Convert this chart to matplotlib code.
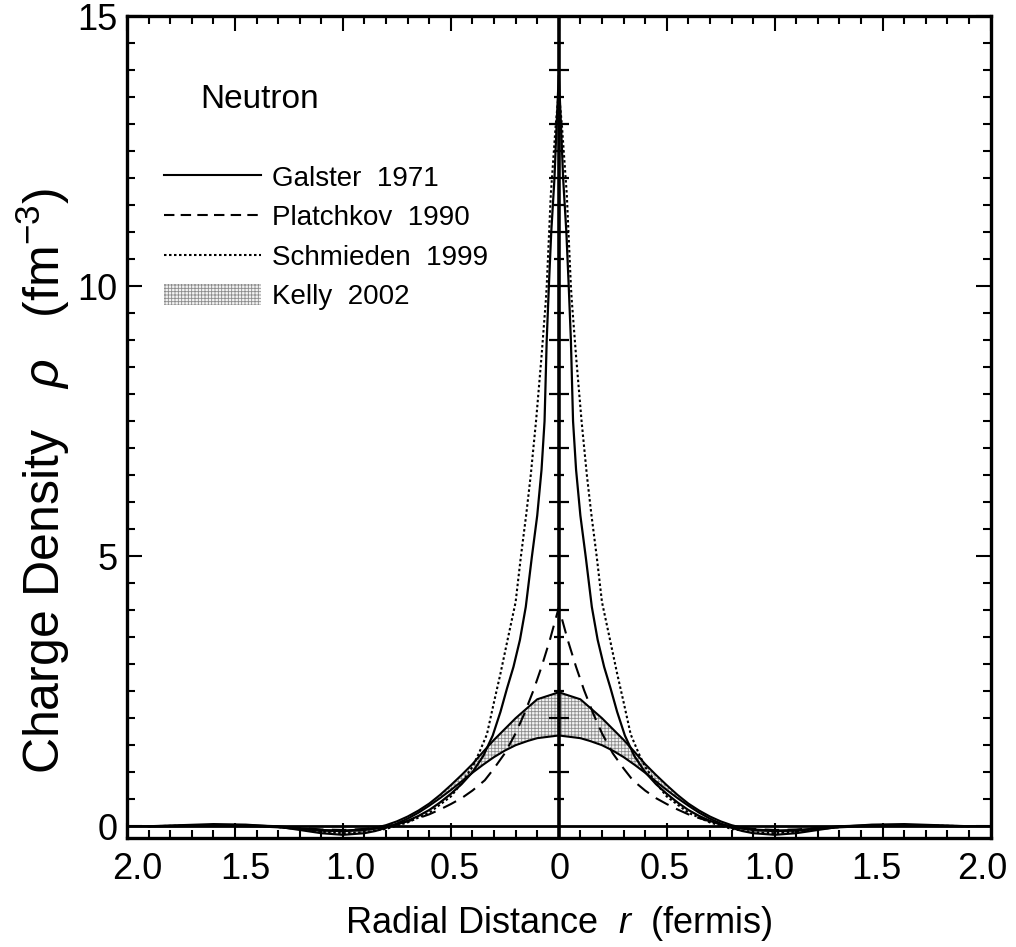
import matplotlib
matplotlib.use("Agg")
import matplotlib.pyplot as plt
import matplotlib.transforms as mtransforms
import numpy as np
from matplotlib.lines import Line2D
from matplotlib.patches import Patch

plt.rcParams["font.family"] = ["Liberation Sans", "DejaVu Sans"]
plt.rcParams["mathtext.fontset"] = "custom"
plt.rcParams["mathtext.rm"] = "Liberation Sans"
plt.rcParams["mathtext.it"] = "Liberation Sans:italic"
plt.rcParams["hatch.linewidth"] = 0.6
plt.rcParams["hatch.color"] = "#8c8c8c"

# radial distance r (fermis) and density rho (fm^-3), r >= 0; curves are symmetric in the plot
galster_r = [0, 0.01, 0.02, 0.035, 0.046, 0.056, 0.066, 0.08, 0.1, 0.125, 0.153, 0.18,
             0.21, 0.24, 0.27, 0.306, 0.35, 0.4, 0.45, 0.5, 0.55, 0.6, 0.65, 0.7, 0.75,
             0.8, 0.9, 1.0, 1.1, 1.2, 1.3, 1.4, 1.6, 1.8, 2.0]
galster_rho = [13.9, 13.0, 12.0, 11.0, 10.0, 9.0, 7.5, 6.6, 5.75, 4.98, 4.06, 3.45,
               2.95, 2.55, 2.12, 1.68, 1.3, 1.0, 0.78, 0.6, 0.44, 0.3, 0.19, 0.1, 0.03,
               -0.02, -0.07, -0.09, -0.08, -0.05, -0.02, 0.0, 0.01, 0.0, 0.0]

platchkov_r = [0, 0.042, 0.08, 0.117, 0.16, 0.2, 0.25, 0.3, 0.343, 0.4, 0.45, 0.5, 0.55,
               0.6, 0.65, 0.7, 0.75, 0.8, 0.9, 1.0, 1.1, 1.2, 1.35, 1.6, 1.9]
platchkov_rho = [4.05, 3.44, 2.95, 2.52, 2.08, 1.72, 1.35, 1.07, 0.85, 0.66, 0.52, 0.41, 0.31,
                 0.22, 0.15, 0.09, 0.04, 0.0, -0.05, -0.07, -0.06, -0.03, 0.0, 0.01, 0.0]

schmieden_r = [0, 0.014, 0.037, 0.056, 0.06, 0.08, 0.105, 0.13, 0.15, 0.176, 0.2, 0.24,
               0.27, 0.3, 0.333, 0.37, 0.4, 0.45, 0.5, 0.6, 0.7, 0.8, 0.9, 1.0, 1.1, 1.2,
               1.35, 1.6, 1.9]
schmieden_rho = [13.6, 13.0, 11.7, 10.0, 9.74, 8.7, 7.52, 6.5, 5.8, 4.98, 4.15, 3.4,
                 2.83, 2.3, 1.7, 1.35, 1.1, 0.8, 0.55, 0.25, 0.07, -0.05, -0.11, -0.13, -0.1,
                 -0.05, 0.0, 0.02, 0.0]

kelly_r = [0, 0.1, 0.143, 0.2, 0.25, 0.3, 0.35, 0.4, 0.45, 0.5, 0.55, 0.6, 0.65, 0.7,
           0.75, 0.8, 0.85, 0.9, 1.0, 1.1, 1.2, 1.3, 1.45, 1.6, 1.75, 1.9]
kelly_upper = [2.48, 2.35, 2.2, 2.0, 1.8, 1.6, 1.38, 1.15, 0.95, 0.76, 0.58, 0.42, 0.29,
               0.18, 0.09, 0.02, -0.03, -0.06, -0.08, -0.07, -0.04, 0.0, 0.02, 0.02, 0.01, 0.0]
kelly_lower = [1.68, 1.63, 1.58, 1.5, 1.4, 1.28, 1.14, 0.99, 0.83, 0.67, 0.52, 0.38, 0.25,
               0.14, 0.05, -0.03, -0.09, -0.13, -0.16, -0.13, -0.07, -0.01, 0.03, 0.04, 0.02, 0.0]

x_tick_values = [-2.0, -1.5, -1.0, -0.5, 0.0, 0.5, 1.0, 1.5, 2.0]
x_tick_labels = ["2.0", "1.5", "1.0", "0.5", "0", "0.5", "1.0", "1.5", "2.0"]
# the printed labels sit slightly inward of their ticks (pixels)
x_label_shift = [10, 10, 7, 4, 1, -2, -5, -6, -8]
y_tick_values = [0, 5, 10, 15]


def _mirror(r, values):
    r = np.asarray(r, dtype=float)
    values = np.asarray(values, dtype=float)
    return np.concatenate([-r[::-1], r[1:]]), np.concatenate([values[::-1], values[1:]])


fig = plt.figure(figsize=(10.16, 9.47), dpi=100)
ax = fig.add_axes([0.125, 0.115, 0.85, 0.868])

kx, ku = _mirror(kelly_r, kelly_upper)
_, kl = _mirror(kelly_r, kelly_lower)
ax.fill_between(kx, kl, ku, facecolor="#f3f3f3", hatch="+++++", edgecolor="#8c8c8c",
                linewidth=0, zorder=1)
ax.plot(kx, ku, color="black", lw=1.5, zorder=3)
ax.plot(kx, kl, color="black", lw=1.5, zorder=3)

gx, gy = _mirror(galster_r, galster_rho)
ax.plot(gx, gy, color="black", lw=1.6, zorder=4)
px, py = _mirror(platchkov_r, platchkov_rho)
ax.plot(px, py, color="black", lw=1.5, dashes=(7, 4), zorder=4)
sx, sy = _mirror(schmieden_r, schmieden_rho)
ax.plot(sx, sy, color="black", lw=1.5, dashes=(1.2, 1.2), zorder=4)

# axes through the origin
ax.axhline(0, color="black", lw=2.0, zorder=5)
ax.axvline(0, color="black", lw=2.6, zorder=5)
long_marks = np.arange(1, 15)
short_marks = np.arange(0.5, 15, 1.0)
ax.plot(np.zeros_like(long_marks), long_marks, ls="none", marker="_", ms=15, mew=1.6,
        color="black", zorder=6)
ax.plot(np.zeros_like(short_marks), short_marks, ls="none", marker="_", ms=7, mew=1.6,
        color="black", zorder=6)

ax.set_xlim(-2, 2)
ax.set_ylim(-0.22, 15)
ax.set_xticks(x_tick_values, labels=x_tick_labels)
ax.set_xticks(np.arange(-2, 2.01, 0.1), minor=True)
ax.set_yticks(y_tick_values)
ax.set_yticks(np.arange(0, 15.01, 0.5), minor=True)
ax.tick_params(which="both", direction="in", top=True, right=True, width=1.5,
               labelsize=26)
ax.tick_params(which="major", length=11, pad=10)
ax.tick_params(axis="y", which="major", pad=7)
ax.tick_params(which="minor", length=6)
for spine in ax.spines.values():
    spine.set_linewidth(2.4)

for label, shift in zip(ax.get_xticklabels(), x_label_shift):
    offset = mtransforms.ScaledTranslation(shift / 100, 0, fig.dpi_scale_trans)
    label.set_transform(label.get_transform() + offset)

ax.set_xlabel(r"Radial Distance  $r$  (fermis)", fontsize=26, labelpad=12)
ax.set_ylabel(r"Charge Density   $\rho$   (fm$^{-3}$)", fontsize=36)
ax.yaxis.set_label_coords(-0.064, 0.435)

ax.text(-1.66, 13.45, "Neutron", fontsize=24, va="center", ha="left")

handles = [
    Line2D([], [], color="black", lw=1.5),
    Line2D([], [], color="black", lw=1.5, dashes=(5, 3)),
    Line2D([], [], color="black", lw=1.5, dashes=(1.2, 1.2)),
    Patch(facecolor="#f3f3f3", hatch="+++++", edgecolor="#8c8c8c", linewidth=0),
]
labels = ["Galster  1971", "Platchkov  1990", "Schmieden  1999", "Kelly  2002"]
ax.legend(handles, labels, loc="upper left", bbox_to_anchor=(0.03, 0.832),
          frameon=False, fontsize=20, handlelength=3.5, handleheight=0.8,
          handletextpad=0.4, labelspacing=0.48, borderaxespad=0)

fig.savefig("out.png", dpi=100)
